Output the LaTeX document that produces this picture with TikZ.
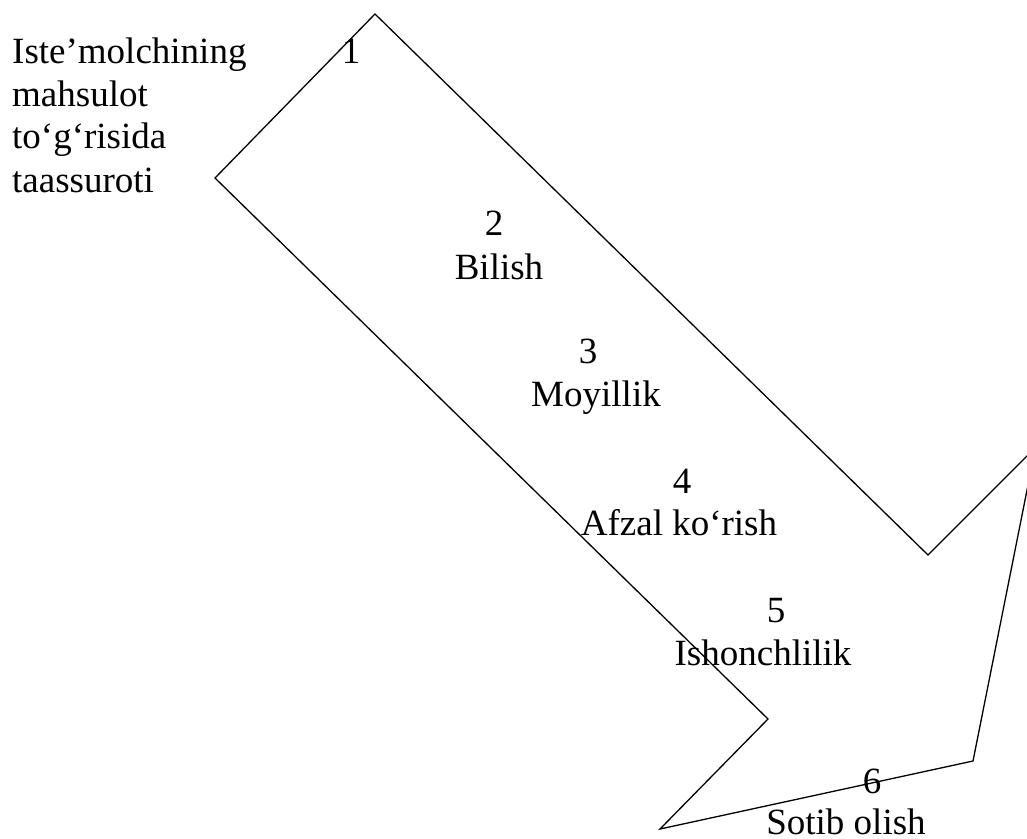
\documentclass[tikz,border=0pt]{standalone}
\usepackage{fontspec}
\setmainfont{Liberation Serif}
\begin{document}
\begin{tikzpicture}[x=1pt,y=-1pt,
  txt/.style={inner sep=0pt,font=\fontsize{37}{43}\selectfont},
  lbl/.style={txt,anchor=base},
  lft/.style={txt,anchor=base west},
  outline/.style={draw=black,line width=1.3pt,line join=miter}]
  \useasboundingbox (0,0) rectangle (1027,838);
  \clip (0,0) rectangle (1027,838);
  % bent arrow outline
  \coordinate (top) at (375,14);
  \coordinate (lft) at (215,178);
  \coordinate (nl) at (768,719);
  \coordinate (tip) at (660,829);
  \coordinate (br) at (973,761);
  \coordinate (rt) at (1035.5,447.5);
  \coordinate (nr) at (928,555);
  \draw[outline] (top) -- (lft) -- (nl) -- (tip) -- (br) -- (rt) -- (nr) -- cycle;
  % caption on the left
  \node[lft] (c1) at (12,63) {Iste’molchining};
  \node[lft] (c2) at (12,106) {mahsulot};
  \node[lft] (c3) at (12,148) {to‘g‘risida};
  \node[lft] (c4) at (12,192) {taassuroti};
  % stages
  \node[lbl] (n1) at (351,63) {1};
  \node[lbl] (n2) at (494,235) {2};
  \node[lbl] (s2) at (499,279) {Bilish};
  \node[lbl] (n3) at (588,363) {3};
  \node[lbl] (s3) at (596,406) {Moyillik};
  \node[lbl] (n4) at (682,493) {4};
  \node[lbl] (s4) at (679,535) {Afzal ko‘rish};
  \node[lbl] (n5) at (776,622) {5};
  \node[lbl] (s5) at (763,665) {Ishonchlilik};
  \node[lbl] (n6) at (872,793) {6};
  \node[lbl] (s6) at (846,834) {Sotib olish};
\end{tikzpicture}
\end{document}
